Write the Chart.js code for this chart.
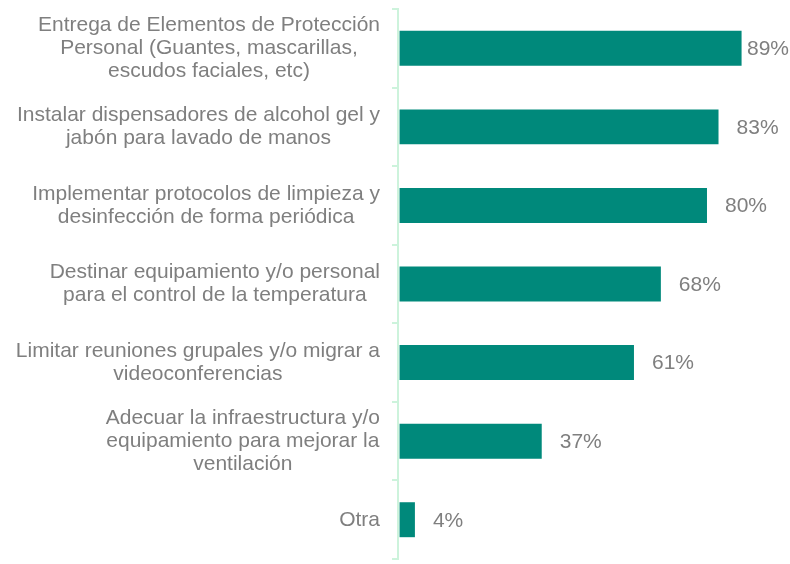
<!DOCTYPE html>
<html>
<head>
<meta charset="utf-8">
<script src="https://cdn.jsdelivr.net/npm/chart.js@4/dist/chart.umd.min.js"></script>
<style>
  html, body { margin: 0; padding: 0; background: #ffffff; }
  #wrap { width: 790px; height: 564px; position: relative; }
</style>
</head>
<body>
<div id="wrap"><canvas id="c"></canvas></div>
<script>
// Measures taken, each label split into its display lines
const categories = [
  ["Entrega de Elementos de Protección", "Personal (Guantes, mascarillas,", "escudos faciales, etc)"],
  ["Instalar dispensadores de alcohol gel y", "jabón para lavado de manos"],
  ["Implementar protocolos de limpieza y", "desinfección de forma periódica"],
  ["Destinar equipamiento y/o personal", "para el control de la temperatura"],
  ["Limitar reuniones grupales y/o migrar a", "videoconferencias"],
  ["Adecuar la infraestructura y/o", "equipamiento para mejorar la", "ventilación"],
  ["Otra"]
];
// Share of respondents (%)
const values = [89, 83, 80, 68, 61, 37, 4];

const BAR = '#00897b';
const AXIS = '#cdf3dc';
const TEXT = '#7f7f7f';
const FONT = '21px "Liberation Sans", Arial, sans-serif';

// Category labels: each block right-aligned to the axis, lines centred within the block
const categoryLabels = {
  id: 'categoryLabels',
  afterDraw(chart) {
    const ctx = chart.ctx;
    const y = chart.scales.y;
    const right = y.right - 18;
    const lh = 23;
    ctx.save();
    ctx.font = FONT;
    ctx.fillStyle = TEXT;
    ctx.textAlign = 'center';
    ctx.textBaseline = 'middle';
    categories.forEach((lines, i) => {
      const cy = y.getPixelForValue(i);
      const w = Math.max(...lines.map(l => ctx.measureText(l).width));
      const cx = right - w / 2;
      const top = cy - (lines.length - 1) * lh / 2;
      lines.forEach((l, k) => ctx.fillText(l, cx, top + k * lh));
    });
    ctx.restore();
  }
};

// Percentage labels after each bar, kept inside the canvas
const valueLabels = {
  id: 'valueLabels',
  afterDatasetsDraw(chart) {
    const ctx = chart.ctx;
    const meta = chart.getDatasetMeta(0);
    ctx.save();
    ctx.font = FONT;
    ctx.fillStyle = TEXT;
    ctx.textAlign = 'left';
    ctx.textBaseline = 'middle';
    meta.data.forEach((bar, i) => {
      const txt = values[i] + '%';
      const w = ctx.measureText(txt).width;
      const x = Math.min(bar.x + 18, chart.width - w - 1);
      ctx.fillText(txt, x, bar.y + 1);
    });
    ctx.restore();
  }
};

new Chart(document.getElementById('c'), {
  type: 'bar',
  data: {
    labels: categories,
    datasets: [{
      data: values,
      backgroundColor: BAR,
      borderWidth: 0,
      categoryPercentage: 1,
      barPercentage: 0.445
    }]
  },
  options: {
    indexAxis: 'y',
    responsive: true,
    maintainAspectRatio: false,
    animation: false,
    layout: { padding: { top: 9, bottom: 5, left: 0, right: 0 } },
    plugins: { legend: { display: false }, tooltip: { enabled: false } },
    scales: {
      x: {
        display: false,
        min: -0.4,
        max: 101.6
      },
      y: {
        position: 'left',
        ticks: { display: false },
        grid: {
          drawOnChartArea: false,
          drawTicks: true,
          tickLength: 6,
          color: AXIS,
          lineWidth: 2,
          offset: true
        },
        border: { display: true, color: AXIS, width: 2 },
        afterFit(scale) { scale.width = 398; }
      }
    }
  },
  plugins: [categoryLabels, valueLabels]
});
</script>
</body>
</html>
